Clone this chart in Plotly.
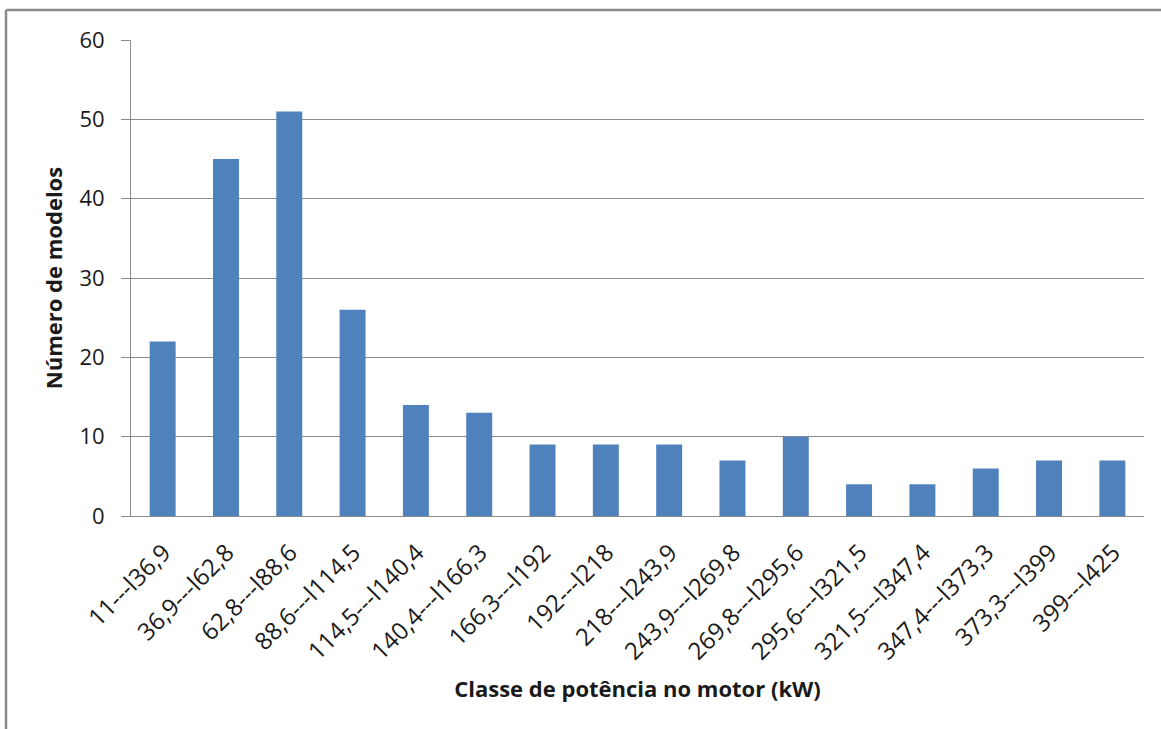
import plotly.graph_objects as go

# classes de potência (kW) e número de modelos
classes = ["11---l36,9", "36,9---l62,8", "62,8---l88,6", "88,6---l114,5",
           "114,5---l140,4", "140,4---l166,3", "166,3---l192", "192---l218",
           "218---l243,9", "243,9---l269,8", "269,8---l295,6", "295,6---l321,5",
           "321,5---l347,4", "347,4---l373,3", "373,3---l399", "399---l425"]
modelos = [22, 45, 51, 26, 14, 13, 9, 9, 9, 7, 10, 4, 4, 6, 7, 7]
y_ticks = [0, 10, 20, 30, 40, 50, 60]

FONT = "Open Sans"
GRID = "#8c8c8c"

fig = go.Figure(go.Bar(x=classes, y=modelos, marker_color="#4f81bd",
                       marker_line_width=0))

fig.update_layout(
    width=1161, height=729,
    margin=dict(l=131, r=17, t=40, b=213),
    paper_bgcolor="white", plot_bgcolor="white",
    bargap=0.59, showlegend=False,
    font=dict(family=FONT, size=22, color="#1a1a1a"),
)

fig.update_xaxes(
    tickangle=-45, showgrid=False, showline=True, linecolor=GRID, linewidth=1,
    ticks="", tickfont=dict(size=24), ticklabelshift=1, ticklabelstandoff=12,
    title=dict(text="<b>Classe de potência no motor (kW)</b>",
               font=dict(size=22), standoff=16),
)
fig.update_yaxes(
    range=[0, 60], tickvals=y_ticks, showgrid=True, gridcolor=GRID, gridwidth=1,
    showline=True, linecolor=GRID, linewidth=1, ticks="outside", ticklen=9,
    tickcolor=GRID, tickfont=dict(size=22), zeroline=False, ticklabelstandoff=12,
    title=dict(text="<b>Número de modelos</b>", font=dict(size=22), standoff=10),
)

# moldura do gráfico (linha superior e esquerda)
fig.add_shape(type="line", xref="paper", yref="paper", x0=-0.1234, x1=1.02,
              y0=1.063, y1=1.063, line=dict(color="#8a8a8a", width=2.5))
fig.add_shape(type="line", xref="paper", yref="paper", x0=-0.1234, x1=-0.1234,
              y0=1.063, y1=-0.5, line=dict(color="#8a8a8a", width=2.5))

# sem margem do body, para a figura ocupar a janela toda
fig.write_html("out.html", config={"displayModeBar": False},
               post_script="document.body.style.margin='0';")
